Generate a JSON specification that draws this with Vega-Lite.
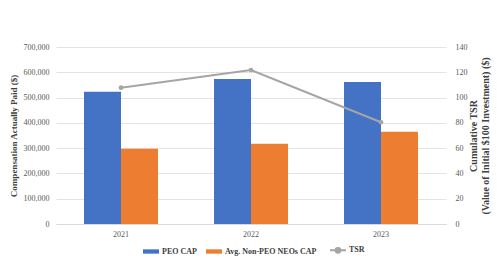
{
  "$schema": "https://vega.github.io/schema/vega-lite/v6.json",
  "width": 390,
  "height": 177,
  "autosize": {"type": "none"},
  "padding": {"left": 56, "top": 47, "right": 54, "bottom": 39},
  "background": "white",
  "config": {
    "font": "Liberation Serif",
    "view": {"stroke": null},
    "axis": {
      "labelFont": "Liberation Serif",
      "titleFont": "Liberation Serif",
      "labelColor": "#595959",
      "titleColor": "#404040",
      "labelFontSize": 8,
      "titleFontSize": 10,
      "titleFontWeight": "bold",
      "ticks": false,
      "domain": false,
      "gridColor": "#E3E3E3",
      "gridWidth": 1
    },
    "legend": {
      "labelFont": "Liberation Serif",
      "labelFontSize": 8,
      "labelFontWeight": "bold",
      "labelColor": "#404040"
    }
  },
  "datasets": {
    "cap": [
      {"year": "2021", "series": "PEO CAP", "value": 523000},
      {"year": "2021", "series": "Avg. Non-PEO NEOs CAP", "value": 298000},
      {"year": "2022", "series": "PEO CAP", "value": 573000},
      {"year": "2022", "series": "Avg. Non-PEO NEOs CAP", "value": 317000},
      {"year": "2023", "series": "PEO CAP", "value": 562000},
      {"year": "2023", "series": "Avg. Non-PEO NEOs CAP", "value": 365000}
    ],
    "tsr": [
      {"year": "2021", "series": "TSR", "tsr": 107.8},
      {"year": "2022", "series": "TSR", "tsr": 121.8},
      {"year": "2023", "series": "TSR", "tsr": 80.5}
    ]
  },
  "resolve": {"scale": {"y": "independent"}},
  "layer": [
    {
      "data": {"name": "cap"},
      "mark": {"type": "bar"},
      "encoding": {
        "x": {
          "field": "year",
          "type": "nominal",
          "scale": {"paddingInner": 0, "paddingOuter": 0},
          "axis": {
            "title": null,
            "labelAngle": 0,
            "domain": true,
            "domainColor": "#D9D9D9",
            "labelPadding": 6
          }
        },
        "xOffset": {
          "field": "series",
          "type": "nominal",
          "sort": ["PEO CAP", "Avg. Non-PEO NEOs CAP"],
          "scale": {"domain": ["PEO CAP", "Avg. Non-PEO NEOs CAP"], "paddingInner": 0, "paddingOuter": 0.757}
        },
        "y": {
          "field": "value",
          "type": "quantitative",
          "scale": {"domain": [0, 700000]},
          "axis": {
            "title": "Compensation Actually Paid ($)",
            "titleFontSize": 9,
            "values": [0, 100000, 200000, 300000, 400000, 500000, 600000, 700000],
            "format": ",d",
            "labelPadding": 7,
            "titlePadding": 5
          }
        },
        "color": {
          "field": "series",
          "type": "nominal",
          "scale": {
            "domain": ["PEO CAP", "Avg. Non-PEO NEOs CAP", "TSR"],
            "range": ["#4472C4", "#ED7D31", "#A5A5A5"]
          },
          "legend": {
            "title": null,
            "orient": "none",
            "direction": "horizontal",
            "legendX": 91,
            "legendY": 199,
            "columnPadding": 9,
            "symbolSize": 256,
            "labelOffset": 7,
            "encode": {
              "symbols": {
                "update": {
                  "shape": {"signal": "datum.value === 'TSR' ? 'M-1,0H1M-0.3,0a0.3,0.3 0 1,0 0.6,0a0.3,0.3 0 1,0 -0.6,0' : 'M-1,-0.27H1V0.27H-1Z'"},
                  "fill": {"signal": "scale('color', datum.value)"},
                  "stroke": {"signal": "scale('color', datum.value)"},
                  "strokeWidth": {"signal": "datum.value === 'TSR' ? 2 : 0"},
                  "opacity": {"value": 1}
                }
              }
            }
          }
        }
      }
    },
    {
      "data": {"name": "tsr"},
      "mark": {"type": "line", "strokeWidth": 2, "point": {"filled": true, "size": 22}},
      "encoding": {
        "x": {"field": "year", "type": "nominal"},
        "y": {
          "field": "tsr",
          "type": "quantitative",
          "scale": {"domain": [0, 140]},
          "axis": {
            "orient": "right",
            "grid": false,
            "values": [0, 20, 40, 60, 80, 100, 120, 140],
            "title": ["Cumulative TSR", "(Value of Initial $100 Investment) ($)"],
            "titleAngle": 270,
            "titleBaseline": "bottom",
            "labelPadding": 9,
            "titlePadding": -1,
            "titleLineHeight": 12
          }
        },
        "color": {"field": "series", "type": "nominal"}
      }
    }
  ]
}
